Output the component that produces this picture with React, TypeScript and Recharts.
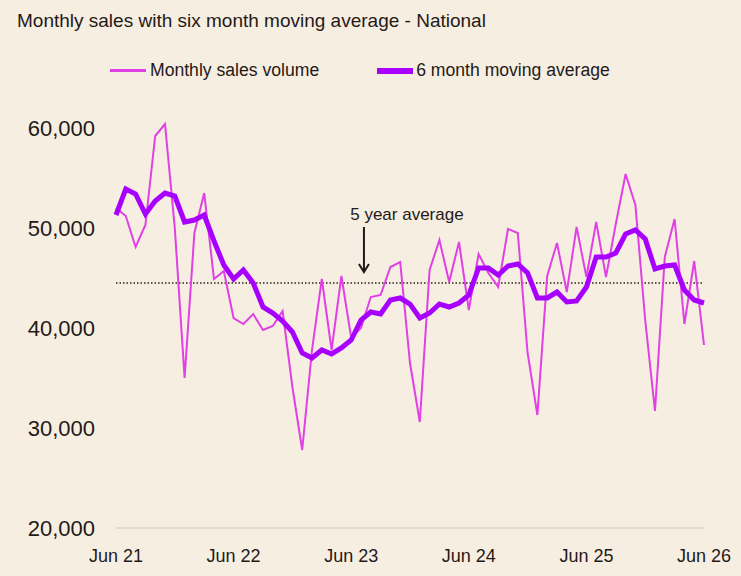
import { LineChart, Line, XAxis, YAxis, ReferenceLine, ReferenceDot } from 'recharts';

const monthLabels = ['Jun 21', 'Jun 22', 'Jun 23', 'Jun 24', 'Jun 25', 'Jun 26'];

const monthlySales = [
  52000, 51200, 48100, 50300, 59200, 60400, 50000, 35000, 49500, 53500, 44900, 45700,
  41000, 40400, 41400, 39800, 40200, 41700, 34100, 27800, 37800, 44900, 37800, 45200,
  39000, 40000, 43100, 43300, 46100, 46600, 36500, 30600, 45800, 48800, 44600, 48600,
  41800, 47400, 45500, 44100, 49900, 49500, 37500, 31300, 45200, 48500, 43600, 50100,
  45100, 50600, 45100, 50400, 55400, 52300, 40800, 31700, 47100, 50900, 40400, 46700,
  38300,
];

const movingAverage = [
  51300, 53900, 53400, 51400, 52700, 53500, 53200, 50600, 50800, 51300, 48700, 46300,
  44900, 45800, 44500, 42100, 41500, 40700, 39600, 37500, 37000, 37800, 37400, 38000,
  38800, 40800, 41600, 41400, 42800, 43000, 42400, 41000, 41500, 42400, 42100, 42500,
  43300, 46000, 46000, 45300, 46200, 46400, 45500, 43000, 43000, 43600, 42600, 42700,
  44100, 47100, 47100, 47500, 49400, 49800, 48900, 45900, 46200, 46300, 43800, 42800,
  42500,
];

const yTicks = [20000, 30000, 40000, 50000, 60000];
const fiveYearAverage = 44500;

const chartData = monthlySales.map((v, i) => ({ month: i, sales: v, avg: movingAverage[i] }));
const xTicks = monthLabels.map((_, i) => i * 12);

const FONT = '"Liberation Sans", Arial, sans-serif';
const INK = '#1f1a17';
const PINK = '#e040e6';
const PURPLE = '#a800ff';

// arrow + label for the 5 year average line
const AverageNote = (props: any) => {
  const { cx, cy } = props;
  if (cx == null || cy == null) return null;
  return (
    <g>
      <text x={cx + 43} y={cy - 52} textAnchor="middle" fontSize={17} fill={INK} fontFamily={FONT}>
        5 year average
      </text>
      <line x1={cx} y1={cy - 45} x2={cx} y2={cy - 1} stroke={INK} strokeWidth={2} />
      <path d={`M${cx - 5},${cy - 8} L${cx},${cy} L${cx + 5},${cy - 8}`} fill="none" stroke={INK} strokeWidth={2} />
    </g>
  );
};

export default function App() {
  return (
    <div
      style={{
        position: 'fixed',
        top: 0,
        left: 0,
        width: 741,
        height: 576,
        background: '#f7eee2',
        fontFamily: FONT,
        color: INK,
      }}
    >
      <div style={{ position: 'absolute', left: 17, top: 10, fontSize: 19 }}>
        Monthly sales with six month moving average - National
      </div>
      <div style={{ position: 'absolute', left: 110, top: 60, fontSize: 17.6, display: 'flex', alignItems: 'center' }}>
        <span style={{ display: 'inline-block', width: 36, height: 3, background: PINK, marginRight: 4 }} />
        <span>Monthly sales volume</span>
        <span style={{ display: 'inline-block', width: 36, height: 6, background: PURPLE, marginLeft: 58, marginRight: 3 }} />
        <span>6 month moving average</span>
      </div>
      <LineChart
        width={741}
        height={576}
        data={chartData}
        margin={{ top: 108, right: 37, bottom: 8, left: 26 }}
        style={{ position: 'absolute', top: 0, left: 0 }}
      >
        <XAxis
          type="number"
          dataKey="month"
          domain={[0, 60]}
          ticks={xTicks}
          tickFormatter={(v: number) => monthLabels[Math.round(v / 12)]}
          height={40}
          tickLine={false}
          tickSize={0}
          tickMargin={21}
          axisLine={{ stroke: '#e3d9cc', strokeWidth: 2 }}
          tick={{ fill: INK, fontSize: 18, fontFamily: FONT }}
        />
        <YAxis
          domain={[20000, 62000]}
          ticks={yTicks}
          width={90}
          axisLine={false}
          tickLine={false}
          tickSize={0}
          tickMargin={21}
          tickFormatter={(v: number) => v.toLocaleString('en-US')}
          tick={{ fill: INK, fontSize: 22, fontFamily: FONT }}
        />
        <ReferenceLine y={fiveYearAverage} stroke="#2a2420" strokeWidth={1.5} strokeDasharray="1.5 2" />
        <Line
          type="linear"
          dataKey="sales"
          stroke={PINK}
          strokeWidth={2}
          dot={false}
          activeDot={false}
          isAnimationActive={false}
        />
        <Line
          type="linear"
          dataKey="avg"
          stroke={PURPLE}
          strokeWidth={5}
          dot={false}
          activeDot={false}
          isAnimationActive={false}
        />
        <ReferenceDot x={25.3} y={45600} shape={AverageNote} />
      </LineChart>
    </div>
  );
}
